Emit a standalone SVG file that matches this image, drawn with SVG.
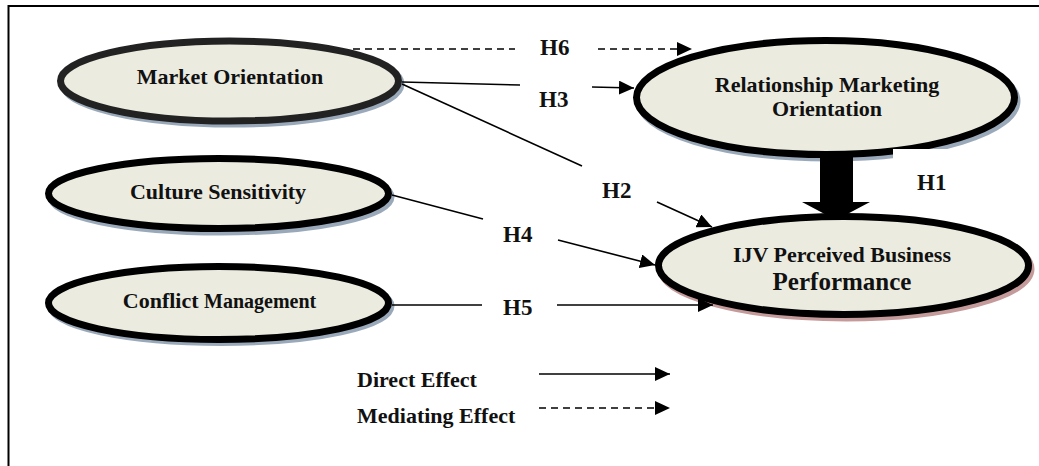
<svg xmlns="http://www.w3.org/2000/svg" width="1039" height="466" viewBox="0 0 1039 466">
<style>
.node{fill:#ecebe0;stroke:#000;stroke-width:7}
.sh{fill:none;stroke:#9aa9ba;stroke-width:7}
.shr{fill:none;stroke:#c49a9a;stroke-width:7}
text{font-family:"Liberation Serif","Times New Roman",serif;font-weight:bold;fill:#111;font-size:22px}
.c{text-anchor:middle}
.h{font-size:23px}
.ln{fill:none;stroke:#000;stroke-width:1.6}
.ds{fill:none;stroke:#000;stroke-width:1.6;stroke-dasharray:7,5}
</style>
<defs>
<marker id="ah" markerUnits="userSpaceOnUse" markerWidth="16" markerHeight="14" refX="15" refY="7" orient="auto">
<path d="M0,0 L15,7 L0,14 Z" fill="#000"/>
</marker>
</defs>
<rect x="8.5" y="6" width="1040" height="470" fill="#fff" stroke="#000" stroke-width="2"/>

<g id="market-orientation">
<ellipse class="sh" cx="232" cy="84" rx="169" ry="40"/>
<ellipse class="node" cx="229.5" cy="81" rx="169" ry="40" style="stroke:#222"/>
<text class="c" x="230" y="84">Market Orientation</text>
</g>
<g id="culture-sensitivity">
<ellipse class="sh" cx="221" cy="197" rx="170" ry="35"/>
<ellipse class="node" cx="218.5" cy="193.5" rx="170" ry="35"/>
<text class="c" x="218" y="199">Culture Sensitivity</text>
</g>
<g id="conflict-management">
<ellipse class="sh" cx="221" cy="306" rx="170" ry="36.5"/>
<ellipse class="node" cx="218.5" cy="303" rx="170" ry="36.5"/>
<text class="c" x="219.5" y="308">Conflict <tspan style="font-size:20px">Management</tspan></text>
</g>
<g id="relationship-marketing-orientation">
<ellipse class="sh" cx="828" cy="101" rx="189" ry="57"/>
<ellipse class="node" cx="825.5" cy="97.5" rx="189" ry="57"/>
<text class="c" x="827" y="92">Relationship Marketing</text>
<text class="c" x="827" y="116">Orientation</text>
</g>
<g id="ijv-performance">
<ellipse class="shr" cx="846" cy="269" rx="185" ry="49"/>
<ellipse class="node" cx="843.5" cy="265.5" rx="185" ry="49"/>
<text class="c" x="842" y="262">IJV Perceived Business</text>
<text class="c" x="842" y="290" style="font-size:25px">Performance</text>
</g>

<g id="connectors">
<path class="ds" d="M353,49 H515"/>
<path class="ds" d="M598,49 H692" marker-end="url(#ah)"/>
<path class="ln" d="M402,82 L520,85"/>
<path class="ln" d="M592,87 L634,88" marker-end="url(#ah)"/>
<path class="ln" d="M402,84 L582,166"/>
<path class="ln" d="M657,202 L712,227" marker-end="url(#ah)"/>
<path class="ln" d="M392,195 L483,219"/>
<path class="ln" d="M558,240 L655,265" marker-end="url(#ah)"/>
<path class="ln" d="M392,305 L482,305"/>
<path class="ln" d="M557,305 L713,305" marker-end="url(#ah)"/>
<rect x="893" y="149" width="60" height="48" fill="#fff"/>
<polygon points="820,154 853,154 853,202 870,202 836,220 802,202 820,202" fill="#000"/>
</g>

<g id="labels">
<text class="h" x="540" y="55">H6</text>
<text class="h" x="539" y="107">H3</text>
<text class="h" x="602" y="198">H2</text>
<text class="h" x="917" y="190">H1</text>
<text class="h" x="503" y="242">H4</text>
<text class="h" x="503" y="315">H5</text>
</g>

<g id="legend">
<text x="357" y="387">Direct Effect</text>
<text x="357" y="423">Mediating Effect</text>
<path class="ln" d="M539,374 H670" marker-end="url(#ah)"/>
<path class="ds" d="M539,408 H670" marker-end="url(#ah)"/>
</g>
</svg>
